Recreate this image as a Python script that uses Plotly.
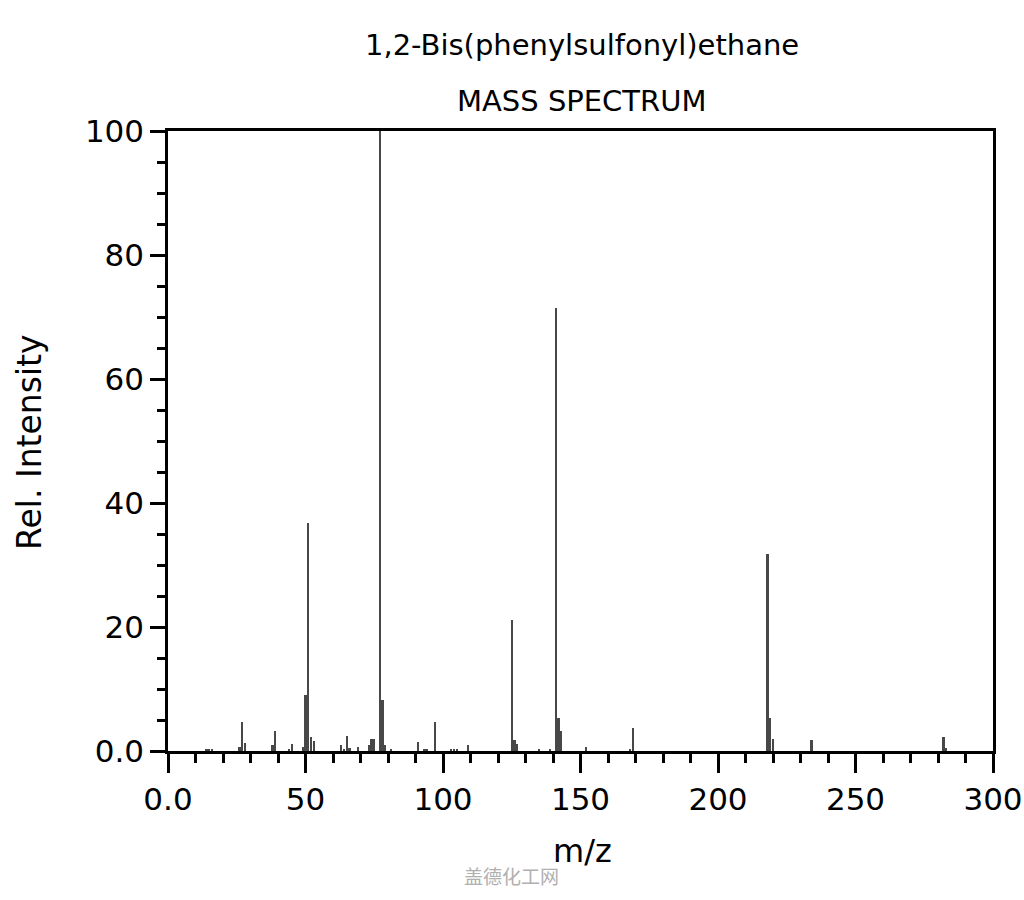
import plotly.graph_objects as go

mz = [14, 15, 16, 26, 27, 28, 38, 39, 44, 45, 49, 50, 51, 52, 53, 63, 64, 65, 66, 69,
      73, 74, 75, 77, 78, 79, 81, 91, 93, 94, 97, 103, 104, 105, 109, 125, 126, 127,
      135, 139, 141, 142, 143, 152, 168, 169, 218, 219, 220, 234, 282, 283]
intensity = [0.4, 0.3, 0.3, 0.7, 4.6, 1.3, 0.9, 3.3, 0.4, 1.2, 0.7, 9.0, 36.8, 2.2, 1.6,
             0.9, 0.4, 2.4, 0.5, 0.6, 0.9, 1.9, 1.9, 100, 8.2, 0.9, 0.4, 1.4, 0.4, 0.4,
             4.7, 0.4, 0.4, 0.4, 0.9, 21.1, 1.8, 1.2, 0.4, 0.4, 71.5, 5.3, 3.3, 0.6, 0.4,
             3.7, 31.8, 5.3, 1.9, 1.8, 2.2, 0.5]

x_tickvals = [0, 50, 100, 150, 200, 250, 300]
x_ticktext = ["0.0", "50", "100", "150", "200", "250", "300"]
y_tickvals = [0, 20, 40, 60, 80, 100]
y_ticktext = ["0.0", "20", "40", "60", "80", "100"]

title_line1 = "1,2-Bis(phenylsulfonyl)ethane"
title_line2 = "MASS SPECTRUM"
x_title = "m/z"
y_title = "Rel. Intensity"
watermark = "盖德化工网"

FONT = "DejaVu Sans"
W, H = 1024, 900
ML, MR, MT, MB = 168, 31, 131, 149
W_plot = W - ML - MR
H_plot = H - MT - MB


def px_x(px):
    return (px - ML) / W_plot


def px_y(py):
    return (H - MB - py) / H_plot


fig = go.Figure()
fig.add_trace(go.Bar(
    x=mz, y=intensity, width=0.9,
    marker=dict(color="#484848", line=dict(width=0)),
    showlegend=False,
))


def ann(text, x, y, size, color="black", family=FONT, angle=0):
    return dict(text=text, x=px_x(x), y=px_y(y), xref="paper", yref="paper",
                xanchor="center", yanchor="middle", showarrow=False, textangle=angle,
                font=dict(size=size, family=family, color=color))


fig.update_layout(
    width=W, height=H,
    margin=dict(l=ML, r=MR, t=MT, b=MB, autoexpand=False),
    paper_bgcolor="white", plot_bgcolor="white",
    font=dict(family=FONT, color="black"),
    bargap=0,
    annotations=[
        ann(title_line1, 582, 45, 29),
        ann(title_line2, 581, 101, 29),
        ann(x_title, 582, 851, 32),
        ann(y_title, 29, 442, 33, angle=-90),
        ann(watermark, 511, 875, 19, color="#b0b0b0", family="Noto Sans CJK SC"),
    ],
)

fig.update_xaxes(
    range=[0, 300], showgrid=False, zeroline=False, automargin=False,
    showline=True, linecolor="black", linewidth=2.5, mirror=True,
    ticks="outside", ticklen=19, tickwidth=2.5, tickcolor="black",
    tickvals=x_tickvals, ticktext=x_ticktext,
    tickfont=dict(size=31, family=FONT, color="black"),
    minor=dict(dtick=10, tick0=0, ticks="outside", ticklen=9, tickwidth=2.5, tickcolor="black"),
)
fig.update_yaxes(
    range=[0, 100], showgrid=False, zeroline=False, automargin=False,
    showline=True, linecolor="black", linewidth=2.5, mirror=True,
    ticks="outside", ticklen=15, tickwidth=2.5, tickcolor="black",
    tickvals=y_tickvals, ticktext=y_ticktext,
    tickfont=dict(size=31, family=FONT, color="black"),
    minor=dict(dtick=5, tick0=0, ticks="outside", ticklen=8, tickwidth=2.5, tickcolor="black"),
)

fig.write_html(
    "out.html",
    config={"displayModeBar": False},
    post_script="document.body.style.margin='0';document.body.style.overflow='hidden';",
)
